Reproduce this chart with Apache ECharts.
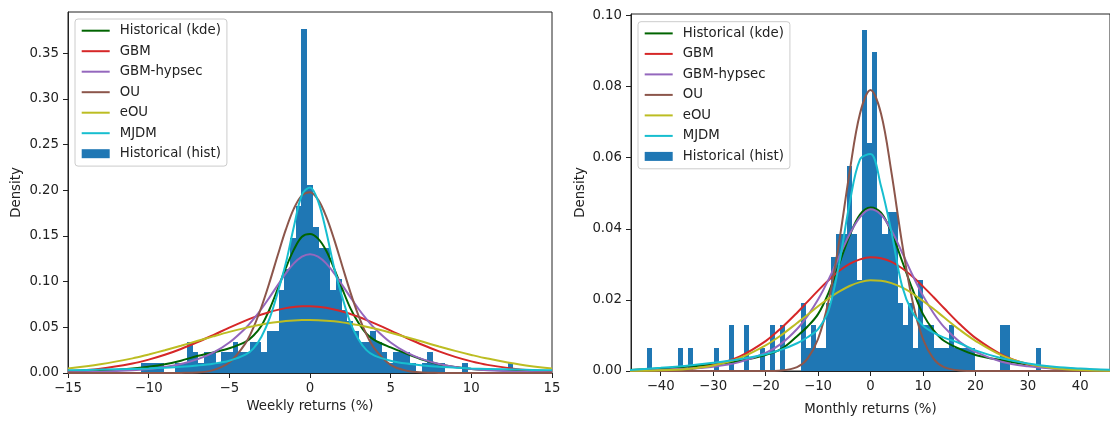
<!DOCTYPE html>
<html>
<head>
<meta charset="utf-8">
<script src="https://cdn.jsdelivr.net/npm/echarts@6/dist/echarts.min.js"></script>
<style>
  html, body { margin: 0; padding: 0; background: #ffffff; }
  #chart { width: 1110px; height: 421px; }
</style>
</head>
<body>
<div id="chart"></div>
<script>
// ---- Weekly returns: histogram (density) ----
const weeklyBinWidth = 0.355;
const weeklyBinLeft = [-10.47, -10.115, -9.76, -9.405, -8.34, -7.985, -7.63, -7.275, -6.92, -6.565,
  -6.21, -5.855, -5.5, -5.145, -4.79, -4.435, -4.08, -3.725, -3.37, -3.015,
  -2.66, -2.305, -1.95, -1.595, -1.24, -0.885, -0.53, -0.175, 0.18, 0.535,
  0.89, 1.245, 1.6, 1.955, 2.31, 2.665, 3.02, 3.375, 3.73, 4.085,
  4.44, 4.795, 5.15, 5.505, 5.86, 6.215, 6.925, 7.28, 7.635, 7.99,
  9.41, 12.25];
const weeklyDensity = [0.0114, 0.0114, 0.0114, 0.0114, 0.0114, 0.0114, 0.0342, 0.0228, 0.0114, 0.0228,
  0.0228, 0.0114, 0.0228, 0.0228, 0.0342, 0.0228, 0.0228, 0.0342, 0.0342, 0.0228,
  0.0456, 0.0456, 0.0912, 0.114, 0.1482, 0.1824, 0.3762, 0.2052, 0.1596, 0.1368,
  0.1368, 0.0912, 0.1026, 0.0684, 0.057, 0.0456, 0.0342, 0.0342, 0.0456, 0.0342,
  0.0228, 0.0114, 0.0228, 0.0228, 0.0228, 0.0114, 0.0114, 0.0228, 0.0114, 0.0114,
  0.0114, 0.0114];

// ---- Weekly returns: fitted densities ----
const weeklyCurveX = [-15, -13, -11, -10, -9, -8, -7, -6, -5, -4, -3.5, -3, -2.5, -2, -1.5, -1, -0.5, 0,
  0.5, 1, 1.5, 2, 2.5, 3, 3.5, 4, 5, 6, 7, 8, 9, 10, 11, 13, 15];
const weeklyKde = [0.0008, 0.0022, 0.0048, 0.0068, 0.0095, 0.0135, 0.0185, 0.0225, 0.027, 0.034, 0.041, 0.052,
  0.07, 0.092, 0.115, 0.135, 0.149, 0.152, 0.147, 0.134, 0.114, 0.092, 0.071, 0.055, 0.043, 0.036,
  0.028, 0.021, 0.0145, 0.0095, 0.0065, 0.0045, 0.0035, 0.0025, 0.0008];
const weeklyGbm = [0.0019, 0.0047, 0.0103, 0.0146, 0.0199, 0.0263, 0.0336, 0.0415, 0.0496, 0.0573, 0.0608, 0.064,
  0.0668, 0.0691, 0.071, 0.0722, 0.0729, 0.0729, 0.0724, 0.0713, 0.0695, 0.0673, 0.0646, 0.0615, 0.058, 0.0543,
  0.0464, 0.0383, 0.0306, 0.0236, 0.0176, 0.0127, 0.0089, 0.0039, 0.0019];
const weeklyHypsec = [0.0006, 0.0013, 0.0029, 0.0044, 0.0066, 0.0099, 0.0149, 0.0222, 0.0333, 0.049, 0.059, 0.0703,
  0.083, 0.0962, 0.109, 0.1199, 0.1273, 0.13, 0.1273, 0.1199, 0.109, 0.0962, 0.083, 0.0703, 0.059, 0.049,
  0.0333, 0.0222, 0.0149, 0.0099, 0.0066, 0.0044, 0.0029, 0.0013, 0.0006];
const weeklyOu = [0, 0, 0, 0, 0, 0.0001, 0.0005, 0.0031, 0.0114, 0.0324, 0.05, 0.0728,
  0.0997, 0.1288, 0.1568, 0.1798, 0.1943, 0.1978, 0.1897, 0.1714, 0.146, 0.1171, 0.0885, 0.0631, 0.0423, 0.0268,
  0.0089, 0.0024, 0.0005, 0.0001, 0, 0, 0, 0, 0];
const weeklyEou = [0.0048, 0.0095, 0.016, 0.0203, 0.0249, 0.0298, 0.035, 0.0401, 0.045, 0.0494, 0.0513, 0.0531,
  0.0546, 0.0558, 0.0568, 0.0575, 0.0579, 0.058, 0.0578, 0.0573, 0.0565, 0.0554, 0.054, 0.0524, 0.0506, 0.0486,
  0.0441, 0.0391, 0.0341, 0.029, 0.0242, 0.0198, 0.0158, 0.0092, 0.0048];
const weeklyMjdm = [0.003, 0.0037, 0.0045, 0.005, 0.0058, 0.0068, 0.0082, 0.0102, 0.0135, 0.02, 0.027, 0.04,
  0.06, 0.088, 0.12, 0.16, 0.195, 0.203, 0.188, 0.155, 0.115, 0.083, 0.055, 0.037, 0.025, 0.019,
  0.0135, 0.0103, 0.0083, 0.0068, 0.0058, 0.005, 0.0045, 0.0037, 0.003];

// ---- Monthly returns: histogram (density) ----
const monthlyBinWidth = 0.976;
const monthlyBinLeft = [-42.62, -36.76, -34.81, -29.93, -27.0, -24.07, -21.15, -19.19, -17.24, -13.34,
  -12.36, -11.39, -10.41, -9.43, -8.46, -7.48, -6.51, -5.53, -4.55, -3.58,
  -2.6, -1.63, -0.65, 0.33, 1.3, 2.28, 3.25, 4.23, 5.21, 6.18,
  7.16, 8.13, 9.11, 10.09, 11.06, 12.04, 13.01, 13.99, 14.97, 15.94,
  16.92, 17.89, 18.87, 24.73, 25.7, 31.56];
const monthlyDensity = [0.0064, 0.0064, 0.0064, 0.0064, 0.0128, 0.0128, 0.0064, 0.0128, 0.0128, 0.0192,
  0.0064, 0.0128, 0.0064, 0.0064, 0.0192, 0.032, 0.0384, 0.0384, 0.0576, 0.0384,
  0.0256, 0.096, 0.064, 0.0896, 0.0448, 0.0384, 0.0448, 0.0448, 0.0192, 0.0128,
  0.0192, 0.0064, 0.0256, 0.0128, 0.0128, 0.0064, 0.0064, 0.0064, 0.0128, 0.0064,
  0.0064, 0.0064, 0.0064, 0.0128, 0.0128, 0.0064];

// ---- Monthly returns: fitted densities ----
const monthlyCurveX = [-46, -40, -35, -30, -25, -20, -17, -14, -12, -10, -8, -6, -4, -2, 0,
  2, 4, 6, 8, 10, 12, 14, 17, 20, 25, 30, 35, 40, 46];
const monthlyKde = [0.0003, 0.0007, 0.0012, 0.0018, 0.0028, 0.0045, 0.0062, 0.0098, 0.0125, 0.016, 0.022, 0.03,
  0.038, 0.044, 0.046, 0.0445, 0.039, 0.031, 0.023, 0.016, 0.0115, 0.0085, 0.0062, 0.0045, 0.003, 0.0018,
  0.001, 0.0005, 0.0002];
const monthlyGbm = [0.00003, 0.00017, 0.00057, 0.00164, 0.00402, 0.0084, 0.0121, 0.0164, 0.0195, 0.0226, 0.0255,
  0.0281, 0.0301, 0.0314, 0.032, 0.0317, 0.0307, 0.0289, 0.0266, 0.0238, 0.0208, 0.0177, 0.0132, 0.0093,
  0.0046, 0.0019, 0.00068, 0.00021, 0.00004];
const monthlyHypsec = [0.00012, 0.00029, 0.0006, 0.0012, 0.0025, 0.0051, 0.0077, 0.0118, 0.0155, 0.0201, 0.0257,
  0.0321, 0.0384, 0.0433, 0.0455, 0.044, 0.0395, 0.0334, 0.027, 0.0212, 0.0163, 0.0124, 0.0082, 0.0054,
  0.0026, 0.0013, 0.00063, 0.0003, 0.00013];
const monthlyOu = [0, 0, 0, 0, 0, 0, 0.00015, 0.0011, 0.0035, 0.009, 0.0197, 0.0361, 0.0558, 0.0724, 0.079,
  0.0724, 0.0558, 0.0361, 0.0197, 0.009, 0.0035, 0.0011, 0.00015, 0, 0, 0, 0, 0, 0];
const monthlyEou = [0.00004, 0.00019, 0.00059, 0.00157, 0.0036, 0.0072, 0.0101, 0.0135, 0.0158, 0.0182, 0.0204,
  0.0223, 0.0239, 0.025, 0.0255, 0.0254, 0.0247, 0.0235, 0.0218, 0.0197, 0.0175, 0.0151, 0.0116, 0.0085,
  0.0044, 0.002, 0.00079, 0.00026, 0.00006];
const monthlyMjdm = [0.0003, 0.0009, 0.0015, 0.0023, 0.0033, 0.0047, 0.006, 0.0078, 0.0095, 0.0118, 0.017,
  0.03, 0.047, 0.0595, 0.061, 0.052, 0.039, 0.024, 0.0165, 0.0128, 0.0108, 0.0094, 0.0078, 0.0058,
  0.0036, 0.0021, 0.0012, 0.0007, 0.0003];

// ---- Tick labels ----
const weeklyTicksX = [-15, -10, -5, 0, 5, 10, 15];
const weeklyTicksY = [0, 0.05, 0.1, 0.15, 0.2, 0.25, 0.3, 0.35];
const monthlyTicksX = [-40, -30, -20, -10, 0, 10, 20, 30, 40];
const monthlyTicksY = [0, 0.02, 0.04, 0.06, 0.08, 0.1];

const modelNames = ['Historical (kde)', 'GBM', 'GBM-hypsec', 'OU', 'eOU', 'MJDM'];
const histName = 'Historical (hist)';

// ---- Styling ----
const FONT = 'DejaVu Sans';
const TEXT = '#222222';
const FS = 13.3;
const modelColors = ['#006400', '#d62728', '#9467bd', '#8c564b', '#bcbd22', '#17becf'];
const histColor = '#1f77b4';

const signed = v => (v < 0 ? '\u2212' + Math.abs(v) : String(v));

// One rectangle per bin, edges snapped to whole pixels so neighbouring bins join cleanly.
function histRect(params, api) {
  const topLeft = api.coord([api.value(0), api.value(2)]);
  const bottomRight = api.coord([api.value(1), 0]);
  const x0 = Math.round(topLeft[0]);
  const x1 = Math.round(bottomRight[0]);
  const y0 = Math.round(topLeft[1]);
  const y1 = bottomRight[1];
  return {
    type: 'rect',
    shape: { x: x0, y: y0, width: Math.max(1, x1 - x0), height: y1 - y0 },
    style: { fill: histColor }
  };
}

function histSeries(idx, left, width, dens) {
  return {
    type: 'custom', name: histName,
    xAxisIndex: idx, yAxisIndex: idx,
    itemStyle: { color: histColor },
    data: left.map((x, i) => [x, x + width, dens[i]]),
    encode: { x: [0, 1], y: 2 },
    renderItem: histRect,
    clip: true, silent: true, z: 1
  };
}

function curveSeries(idx, xs, ys, k) {
  return {
    type: 'line', name: modelNames[k],
    xAxisIndex: idx, yAxisIndex: idx,
    data: xs.map((x, i) => [x, ys[i]]),
    symbol: 'none', showSymbol: false,
    smooth: 0.35,
    lineStyle: { width: 2, color: modelColors[k] },
    itemStyle: { color: modelColors[k] },
    clip: true, silent: true, z: 3
  };
}

function xAxis(idx, min, max, ticks, name, nameGap) {
  return {
    gridIndex: idx, type: 'value', min: min, max: max,
    axisLine: { onZero: false, lineStyle: { color: TEXT, width: 1 } },
    axisTick: { length: 5, lineStyle: { color: TEXT }, customValues: ticks },
    axisLabel: { margin: 9, color: TEXT, fontFamily: FONT, fontSize: FS, formatter: signed, customValues: ticks },
    splitLine: { show: false },
    name: name, nameLocation: 'middle', nameGap: nameGap,
    nameTextStyle: { color: TEXT, fontFamily: FONT, fontSize: FS }
  };
}

function yAxis(idx, max, ticks, nameGap) {
  return {
    gridIndex: idx, type: 'value', min: 0, max: max,
    axisLine: { onZero: false, lineStyle: { color: TEXT, width: 1 } },
    axisTick: { length: 5, lineStyle: { color: TEXT }, customValues: ticks },
    axisLabel: { margin: 9, color: TEXT, fontFamily: FONT, fontSize: FS,
      formatter: v => v.toFixed(2), customValues: ticks },
    splitLine: { show: false },
    name: 'Density', nameLocation: 'middle', nameGap: nameGap, nameRotate: 90,
    nameTextStyle: { color: TEXT, fontFamily: FONT, fontSize: FS }
  };
}

// Legend: plain line handles for the fitted curves, a filled patch for the histogram.
function legend(left, top) {
  return {
    orient: 'vertical', left: left, top: top,
    itemWidth: 28, itemHeight: 9, itemGap: 6.5,
    padding: [4.7, 6, 5.4, 5.7],
    backgroundColor: 'rgba(255,255,255,0.8)',
    borderColor: '#cccccc', borderWidth: 1, borderRadius: 3,
    selectedMode: false,
    itemStyle: { opacity: 0 },
    textStyle: { color: TEXT, fontFamily: FONT, fontSize: FS, lineHeight: 14, padding: [0, 0, 0, 5] },
    data: modelNames.map(n => ({ name: n }))
      .concat([{ name: histName, icon: 'rect', itemStyle: { opacity: 1, color: histColor } }])
  };
}

const weeklyCurves = [weeklyKde, weeklyGbm, weeklyHypsec, weeklyOu, weeklyEou, weeklyMjdm];
const monthlyCurves = [monthlyKde, monthlyGbm, monthlyHypsec, monthlyOu, monthlyEou, monthlyMjdm];

const series = [histSeries(0, weeklyBinLeft, weeklyBinWidth, weeklyDensity)]
  .concat(weeklyCurves.map((ys, k) => curveSeries(0, weeklyCurveX, ys, k)))
  .concat([histSeries(1, monthlyBinLeft, monthlyBinWidth, monthlyDensity)])
  .concat(monthlyCurves.map((ys, k) => curveSeries(1, monthlyCurveX, ys, k)));

const chart = echarts.init(document.getElementById('chart'), null, { renderer: 'canvas' });
chart.setOption({
  animation: false,
  backgroundColor: '#ffffff',
  textStyle: { fontFamily: FONT },
  grid: [
    { left: 68, top: 12, width: 484, height: 361, show: true, borderColor: TEXT, borderWidth: 1, backgroundColor: 'transparent' },
    { left: 631, top: 14, width: 484, height: 365, show: true, borderColor: TEXT, borderWidth: 1, backgroundColor: 'transparent' }
  ],
  xAxis: [
    xAxis(0, -15, 15, weeklyTicksX, 'Weekly returns (%)', 27),
    xAxis(1, -45.66, 45.66, monthlyTicksX, 'Monthly returns (%)', 32)
  ],
  yAxis: [
    yAxis(0, 0.395, weeklyTicksY, 45),
    yAxis(1, 0.1004, monthlyTicksY, 44)
  ],
  legend: [legend(75, 19), legend(638, 21.7)],
  series: series
});
</script>
</body>
</html>
